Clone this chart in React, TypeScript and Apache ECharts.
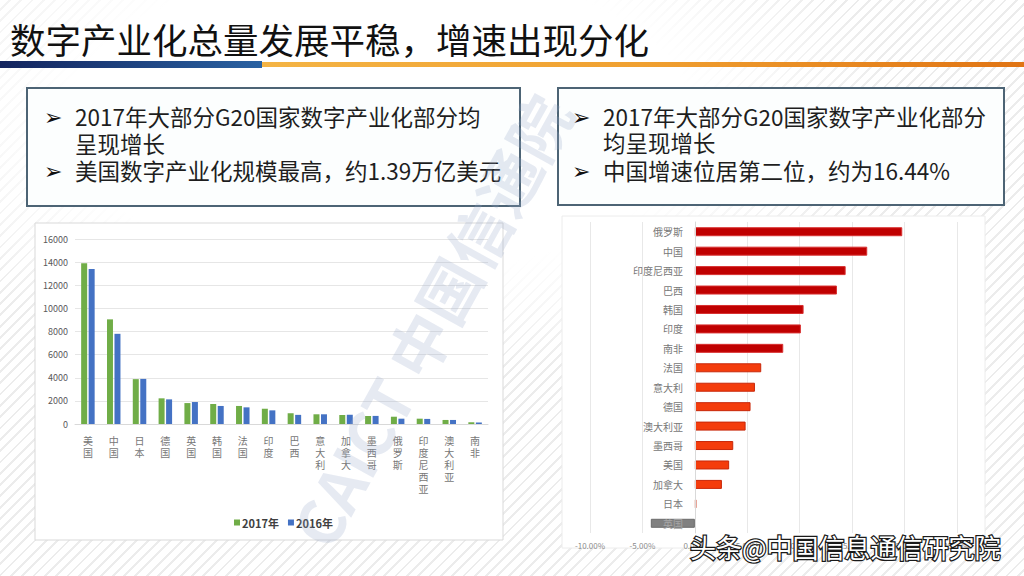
import React, { useEffect, useRef } from 'react';
import * as echarts from 'echarts';

const TITLE = '数字产业化总量发展平稳，增速出现分化';
const LEFT_NOTES = ['2017年大部分G20国家数字产业化部分均', '呈现增长', '美国数字产业化规模最高，约1.39万亿美元'];
const RIGHT_NOTES = ['2017年大部分G20国家数字产业化部分', '均呈现增长', '中国增速位居第二位，约为16.44%'];
const LEFT_BULLET_ROWS = [0, 2];
const RIGHT_BULLET_ROWS = [0, 2];

const scaleCountries = ['美国', '中国', '日本', '德国', '英国', '韩国', '法国', '印度', '巴西', '意大利', '加拿大', '墨西哥', '俄罗斯', '印度尼西亚', '澳大利亚', '南非'];
const scale2017 = [13900, 9050, 3880, 2220, 1810, 1730, 1560, 1320, 930, 840, 780, 690, 630, 460, 350, 150];
const scale2016 = [13400, 7800, 3900, 2130, 1900, 1560, 1440, 1180, 790, 840, 800, 700, 460, 440, 350, 130];
const seriesNames = ['2017年', '2016年'];

const growthCountries = ['俄罗斯', '中国', '印度尼西亚', '巴西', '韩国', '印度', '南非', '法国', '意大利', '德国', '澳大利亚', '墨西哥', '美国', '加拿大', '日本', '英国'];
const growthRates = [19.78, 16.44, 14.38, 13.55, 10.37, 10.11, 8.43, 6.33, 5.73, 5.31, 4.84, 3.66, 3.27, 2.58, 0.15, -4.2];

const FONT = '"Noto Sans CJK SC", "Noto Sans", sans-serif';

export default function App() {
  const ref = useRef<HTMLDivElement>(null);
  useEffect(() => {
    if (!ref.current) return;
    const chart = echarts.init(ref.current, null, { renderer: 'svg' });
    const noteText = (lines: string[], bullets: number[], x: number, ys: number[]) => {
      const els: any[] = [];
      lines.forEach((t, i) => {
        if (bullets.includes(i)) {
          els.push({
            type: 'text', x: x - 31, y: ys[i] + 1, z: 5,
            style: { text: '➢', fontSize: 22, fontFamily: '"DejaVu Sans"', fill: '#111', verticalAlign: 'middle' },
          });
        }
        els.push({
          type: 'text', x, y: ys[i], z: 5,
          style: { text: t, fontSize: 22.5, fontFamily: FONT, fill: '#1e1e1e', verticalAlign: 'middle' },
        });
      });
      return els;
    };
    const option: any = {
      animation: false,
      backgroundColor: 'transparent',
      textStyle: { fontFamily: FONT },
      legend: {
        data: seriesNames,
        left: 229,
        top: 512,
        icon: 'rect',
        itemWidth: 6,
        itemHeight: 6,
        itemGap: 9,
        textStyle: { fontSize: 11, fontWeight: 'bold', color: '#404040', padding: [0, 0, 0, -3] },
      },
      grid: [
        { left: 75, right: 536, top: 239, bottom: 152 },
        { left: 590, right: 67, top: 222, bottom: 43 },
      ],
      xAxis: [
        {
          gridIndex: 0,
          type: 'category',
          data: scaleCountries,
          axisTick: { show: false },
          axisLine: { lineStyle: { color: '#d9d9d9' } },
          axisLabel: {
            interval: 0,
            fontSize: 10,
            lineHeight: 12,
            color: '#777',
            margin: 10,
            formatter: (v: string) => v.split('').join('\n'),
          },
        },
        {
          gridIndex: 1,
          type: 'value',
          min: -10,
          max: 25,
          interval: 5,
          axisLine: { show: false },
          axisTick: { show: false },
          splitLine: { lineStyle: { color: '#e8e8e8' } },
          axisLabel: { fontSize: 8, color: '#8c8c8c', margin: 8, formatter: (v: number) => v.toFixed(2) + '%' },
        },
      ],
      yAxis: [
        {
          gridIndex: 0,
          type: 'value',
          min: 0,
          max: 16000,
          interval: 2000,
          axisLine: { show: false },
          axisTick: { show: false },
          splitLine: { lineStyle: { color: '#e6e6e6' } },
          axisLabel: { fontSize: 9, color: '#595959', margin: 7, formatter: (v: number) => String(v) },
        },
        {
          gridIndex: 1,
          type: 'category',
          data: growthCountries,
          inverse: true,
          offset: -105,
          z: 5,
          axisTick: { show: false },
          axisLine: { show: true, onZero: false, lineStyle: { color: '#d9d9d9' } },
          axisLabel: {
            interval: 0, fontSize: 10, color: '#777', margin: 12,
            formatter: (v: string, i: number) => (growthRates[i] < 0 ? '{neg|' + v + '}' : v),
            rich: { neg: { fontSize: 10, color: '#a6a6a6' } },
          },
        },
      ],
      series: [
        {
          name: seriesNames[0], type: 'bar', xAxisIndex: 0, yAxisIndex: 0,
          data: scale2017, barWidth: 6, barGap: '25%', itemStyle: { color: '#70ad47' },
        },
        {
          name: seriesNames[1], type: 'bar', xAxisIndex: 0, yAxisIndex: 0,
          data: scale2016, barWidth: 6, barGap: '25%', itemStyle: { color: '#4472c4' },
        },
        {
          type: 'bar', xAxisIndex: 1, yAxisIndex: 1, barWidth: 9, z: 2,
          data: growthRates.map((v) => ({
            value: v,
            itemStyle: v < 0
              ? { color: '#808080', borderColor: '#6a6a6a', borderWidth: 1 }
              : v >= 8
                ? { color: '#c00000', borderColor: '#d83030', borderWidth: 1 }
                : { color: '#f43c0c', borderColor: '#c8280a', borderWidth: 1 },
          })),
        },
      ],
      graphic: [
        { type: 'rect', z: -10, shape: { x: 35, y: 223, width: 468, height: 317 }, style: { fill: '#fff', stroke: '#d9d9d9', lineWidth: 1 } },
        { type: 'rect', z: -10, shape: { x: 562, y: 216, width: 423, height: 332 }, style: { fill: '#fff', stroke: '#ececec', lineWidth: 1 } },
        { type: 'text', x: 10, y: 38, z: 5, style: { text: TITLE, fontSize: 35.5, fontFamily: FONT, fill: '#111', verticalAlign: 'middle' } },
        {
          type: 'rect', z: 4, shape: { x: 0, y: 61, width: 262, height: 7 },
          style: { fill: new echarts.graphic.LinearGradient(0, 0, 1, 0, [{ offset: 0, color: '#13245e' }, { offset: 1, color: '#2a62a2' }]) },
        },
        {
          type: 'rect', z: 4, shape: { x: 262, y: 62, width: 762, height: 5 },
          style: { fill: new echarts.graphic.LinearGradient(0, 0, 1, 0, [{ offset: 0, color: '#f4b444' }, { offset: 0.5, color: '#f0a030' }, { offset: 1, color: '#e07414' }]) },
        },
        { type: 'rect', z: 1, shape: { x: 27, y: 88, width: 493, height: 118 }, style: { fill: '#fcfefe', stroke: '#4d6475', lineWidth: 2 } },
        { type: 'rect', z: 1, shape: { x: 558, y: 88, width: 446, height: 117 }, style: { fill: '#fcfefe', stroke: '#4d6475', lineWidth: 2 } },
        ...noteText(LEFT_NOTES, LEFT_BULLET_ROWS, 75, [116, 143, 170]),
        ...noteText(RIGHT_NOTES, RIGHT_BULLET_ROWS, 603, [116, 142, 170]),
        {
          type: 'text', x: 308, y: 540, z: 50, rotation: (61 * Math.PI) / 180,
          style: { text: 'CAICT 中国信通院', fontSize: 62, fontWeight: 'bold', fontFamily: FONT, fill: 'rgba(150,166,200,0.24)', verticalAlign: 'middle' },
        },
        {
          type: 'text', x: 690, y: 546, z: 60,
          style: { text: '头条@中国信息通信研究院', fontSize: 26, fontFamily: FONT, fill: '#ffffff', stroke: '#1a1a1a', lineWidth: 2.5, verticalAlign: 'middle' },
        },
      ],
    };
    chart.setOption(option);
    return () => chart.dispose();
  }, []);
  return (
    <div style={{ position: 'fixed', left: 0, top: 0, width: 1024, height: 576, background: '#fff', overflow: 'hidden' }}>
      <div style={{ position: 'absolute', inset: 0, background: 'repeating-linear-gradient(135deg, #ffffff 0px, #ffffff 6px, #ececec 6px, #ececec 8px)' }} />
      <div style={{ position: 'absolute', left: 0, top: 0, width: 1024, height: 576, background: 'radial-gradient(ellipse 520px 260px at 380px 120px, #fff 60%, rgba(255,255,255,0) 100%)' }} />
      <div ref={ref} style={{ position: 'absolute', left: 0, top: 0, width: 1024, height: 576 }} />
    </div>
  );
}
